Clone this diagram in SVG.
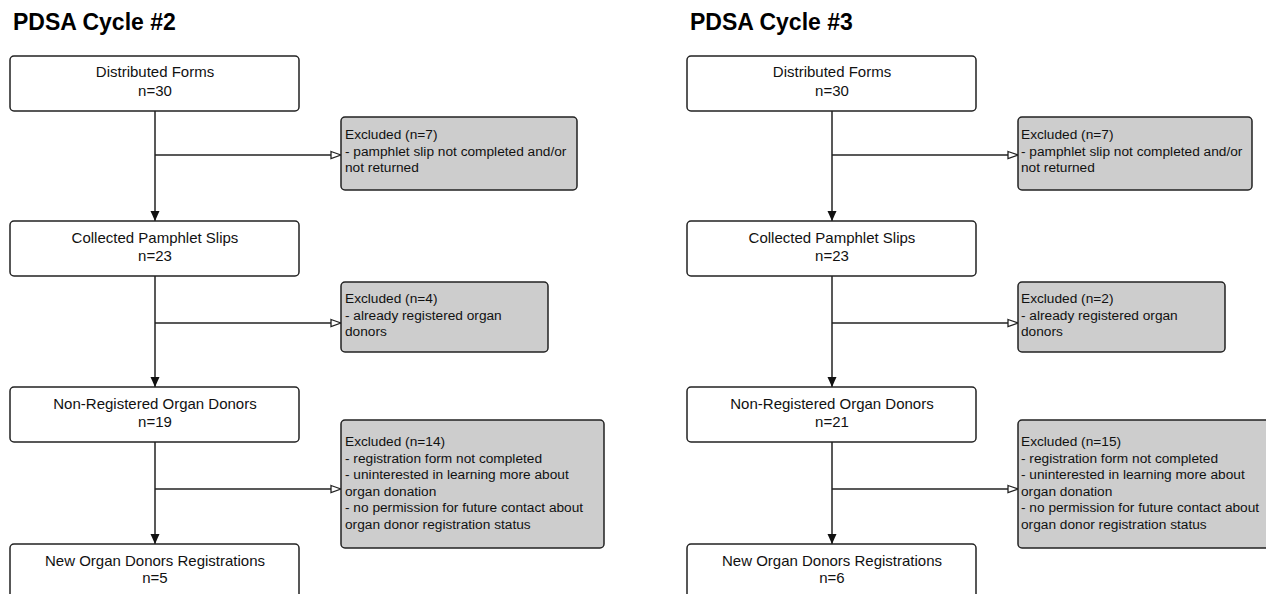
<svg xmlns="http://www.w3.org/2000/svg" width="1266" height="594" viewBox="0 0 1266 594">
<style>
.title{font-family:"Liberation Sans",Arial,sans-serif;font-weight:bold;font-size:23px;fill:#000}
.box{fill:#fff;stroke:#222;stroke-width:1.5}
.exc{fill:#cdcdcd;stroke:#222;stroke-width:1.5}
.t{font-family:"Liberation Sans",Arial,sans-serif;font-size:15px;fill:#111;text-anchor:middle}
.e{font-family:"Liberation Sans",Arial,sans-serif;font-size:13.7px;fill:#111}
.ln{stroke:#222;stroke-width:1.5;fill:none}
</style>
<defs>
<marker id="fa" markerUnits="userSpaceOnUse" markerWidth="10" markerHeight="10" refX="10" refY="4.5" orient="auto" viewBox="0 0 10 9">
<path d="M0,0 L10,4.5 L0,9 z" fill="#111"/>
</marker>
<marker id="oa" markerUnits="userSpaceOnUse" markerWidth="12" markerHeight="10" refX="11" refY="4.5" orient="auto" viewBox="0 0 12 9">
<path d="M1,1 L11,4.5 L1,8 z" fill="#fff" stroke="#222" stroke-width="1.3"/>
</marker>
</defs>
<rect width="1266" height="594" fill="#fff"/>
<text class="title" x="13" y="30">PDSA Cycle #2</text>
<text class="title" x="690" y="30">PDSA Cycle #3</text>

<g id="connectors">
<line class="ln" x1="155" y1="111" x2="155" y2="221" marker-end="url(#fa)"/>
<line class="ln" x1="155" y1="276" x2="155" y2="387" marker-end="url(#fa)"/>
<line class="ln" x1="155" y1="442" x2="155" y2="544" marker-end="url(#fa)"/>
<line class="ln" x1="155" y1="155" x2="341" y2="155" marker-end="url(#oa)"/>
<line class="ln" x1="155" y1="323" x2="341" y2="323" marker-end="url(#oa)"/>
<line class="ln" x1="155" y1="489" x2="341" y2="489" marker-end="url(#oa)"/>
<line class="ln" x1="832" y1="111" x2="832" y2="221" marker-end="url(#fa)"/>
<line class="ln" x1="832" y1="276" x2="832" y2="387" marker-end="url(#fa)"/>
<line class="ln" x1="832" y1="442" x2="832" y2="544" marker-end="url(#fa)"/>
<line class="ln" x1="832" y1="155" x2="1018" y2="155" marker-end="url(#oa)"/>
<line class="ln" x1="832" y1="323" x2="1018" y2="323" marker-end="url(#oa)"/>
<line class="ln" x1="832" y1="489" x2="1018" y2="489" marker-end="url(#oa)"/>
</g>

<g id="l-distributed">
<rect class="box" x="10" y="56" width="289" height="55" rx="4"/>
<text class="t" x="155" y="77">Distributed Forms</text>
<text class="t" x="155" y="96">n=30</text>
</g>
<g id="l-collected">
<rect class="box" x="10" y="221" width="289" height="55" rx="4"/>
<text class="t" x="155" y="243">Collected Pamphlet Slips</text>
<text class="t" x="155" y="261">n=23</text>
</g>
<g id="l-nonreg">
<rect class="box" x="10" y="387" width="289" height="55" rx="4"/>
<text class="t" x="155" y="409">Non-Registered Organ Donors</text>
<text class="t" x="155" y="427">n=19</text>
</g>
<g id="l-new">
<rect class="box" x="10" y="544" width="289" height="60" rx="4"/>
<text class="t" x="155" y="566">New Organ Donors Registrations</text>
<text class="t" x="155" y="583">n=5</text>
</g>
<g id="l-exc1">
<rect class="exc" x="341" y="117" width="236" height="73" rx="4"/>
<text class="e" x="345" y="139">Excluded (n=7)</text>
<text class="e" x="345" y="156">- pamphlet slip not completed and/or</text>
<text class="e" x="345" y="172">not returned</text>
</g>
<g id="l-exc2">
<rect class="exc" x="341" y="282" width="207" height="70" rx="4"/>
<text class="e" x="345" y="303">Excluded (n=4)</text>
<text class="e" x="345" y="320">- already registered organ</text>
<text class="e" x="345" y="336">donors</text>
</g>
<g id="l-exc3">
<rect class="exc" x="341" y="420" width="263" height="128" rx="4"/>
<text class="e" x="345" y="446">Excluded (n=14)</text>
<text class="e" x="345" y="463">- registration form not completed</text>
<text class="e" x="345" y="479">- uninterested in learning more about</text>
<text class="e" x="345" y="496">organ donation</text>
<text class="e" x="345" y="512">- no permission for future contact about</text>
<text class="e" x="345" y="529">organ donor registration status</text>
</g>

<g id="r-distributed">
<rect class="box" x="687" y="56" width="289" height="55" rx="4"/>
<text class="t" x="832" y="77">Distributed Forms</text>
<text class="t" x="832" y="96">n=30</text>
</g>
<g id="r-collected">
<rect class="box" x="687" y="221" width="289" height="55" rx="4"/>
<text class="t" x="832" y="243">Collected Pamphlet Slips</text>
<text class="t" x="832" y="261">n=23</text>
</g>
<g id="r-nonreg">
<rect class="box" x="687" y="387" width="289" height="55" rx="4"/>
<text class="t" x="832" y="409">Non-Registered Organ Donors</text>
<text class="t" x="832" y="427">n=21</text>
</g>
<g id="r-new">
<rect class="box" x="687" y="544" width="289" height="60" rx="4"/>
<text class="t" x="832" y="566">New Organ Donors Registrations</text>
<text class="t" x="832" y="583">n=6</text>
</g>
<g id="r-exc1">
<rect class="exc" x="1018" y="117" width="234" height="73" rx="4"/>
<text class="e" x="1021" y="139">Excluded (n=7)</text>
<text class="e" x="1021" y="156">- pamphlet slip not completed and/or</text>
<text class="e" x="1021" y="172">not returned</text>
</g>
<g id="r-exc2">
<rect class="exc" x="1018" y="282" width="207" height="70" rx="4"/>
<text class="e" x="1021" y="303">Excluded (n=2)</text>
<text class="e" x="1021" y="320">- already registered organ</text>
<text class="e" x="1021" y="336">donors</text>
</g>
<g id="r-exc3">
<rect class="exc" x="1018" y="420" width="263" height="128" rx="4"/>
<text class="e" x="1021" y="446">Excluded (n=15)</text>
<text class="e" x="1021" y="463">- registration form not completed</text>
<text class="e" x="1021" y="479">- uninterested in learning more about</text>
<text class="e" x="1021" y="496">organ donation</text>
<text class="e" x="1021" y="512">- no permission for future contact about</text>
<text class="e" x="1021" y="529">organ donor registration status</text>
</g>
</svg>
